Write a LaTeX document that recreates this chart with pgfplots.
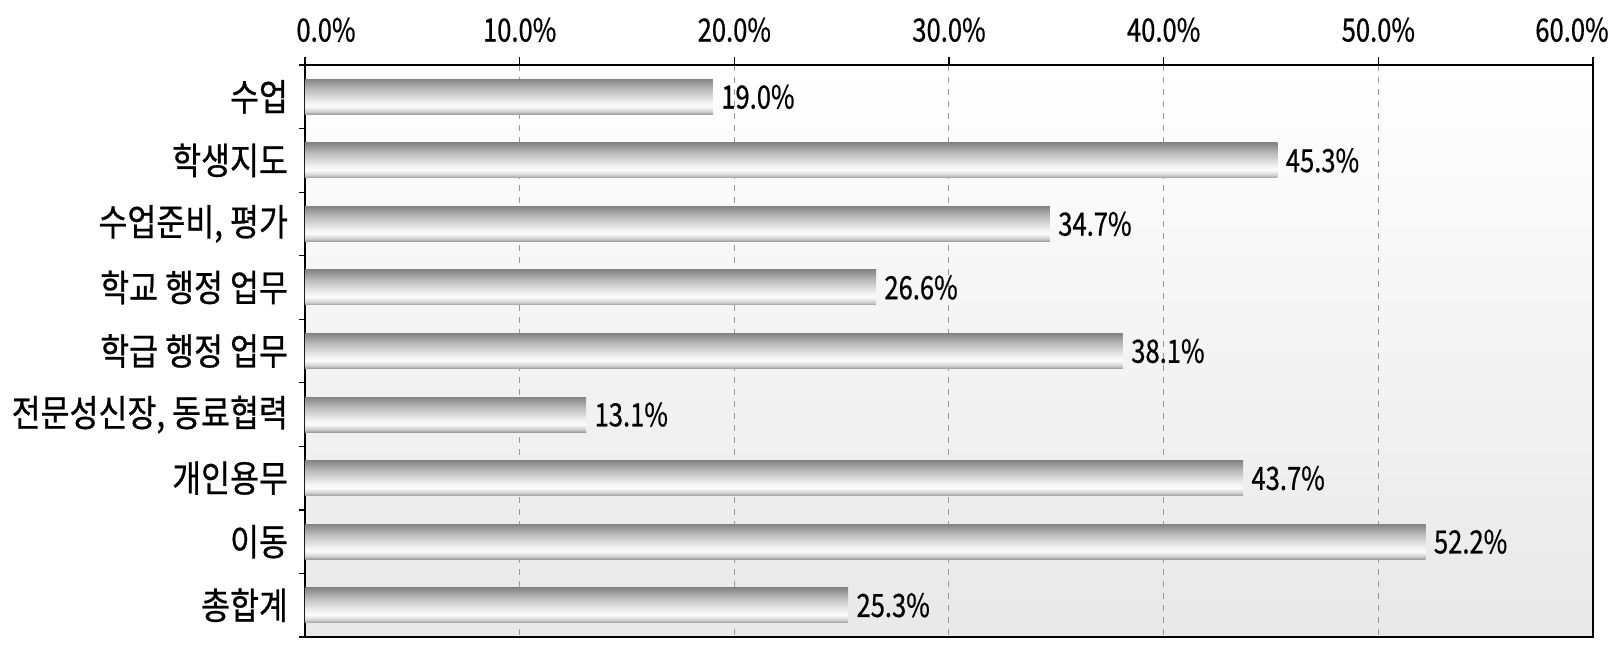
\documentclass[border=0pt]{standalone}
\usepackage{pgfplots}
\pgfplotsset{compat=1.18}
\usepackage{fontspec}
\setmainfont{Noto Sans CJK KR}[FakeStretch=0.8, FakeBold=0.6]
\newfontfamily\kr{Noto Sans CJK KR}[FakeStretch=0.85, FakeBold=0.6]
\definecolor{s1}{HTML}{9C9C9C}
\definecolor{s2}{HTML}{D0D0D0}
\definecolor{s3}{HTML}{FCFCFC}
\definecolor{s4}{HTML}{F2F2F2}
\definecolor{s5}{HTML}{BDBDBD}
\definecolor{s6}{HTML}{858585}
\pgfdeclareverticalshading{barshade}{100bp}{color(0bp)=(s1); color(25bp)=(s1); color(29bp)=(s2); color(36bp)=(s3); color(42bp)=(s4); color(60bp)=(s5); color(75bp)=(s6); color(100bp)=(s6)}
\newcommand{\lf}{\fontsize{16}{19}\selectfont}
\pgfplotsset{
  mybar/.style={xbar, bar width=17.5pt, bar shift=0pt, draw=none, shade, shading=barshade,
    point meta=x, nodes near coords={\pgfmathprintnumber[fixed,fixed zerofill,precision=1,assume math mode=true]{\pgfplotspointmeta}\%},
    nodes near coords align={horizontal},
    every node near coord/.style={anchor=west, font=\lf, text=black, inner sep=2pt, xshift=2pt}},
}
\begin{document}
\begin{tikzpicture}
\begin{axis}[
  at={(0,0)}, anchor=south west,
  scale only axis, width=644pt, height=286pt,
  xmin=0, xmax=60, ymin=-0.5, ymax=8.5, y dir=reverse,
  axis background/.style={top color=white, bottom color=black!9},
  axis line style={black, line width=0.8pt},
  xtick={0,10,...,60},
  xtick pos=right, xticklabel pos=right,
  xticklabel={\ifdim\tick pt<1pt\hspace*{21pt}\fi\pgfmathprintnumber[fixed,fixed zerofill,precision=1,assume math mode=true]{\tick}\%\ifdim\tick pt>59pt\hspace*{21pt}\fi},
  xticklabel style={font=\lf, yshift=4pt},
  tick align=outside,
  x tick style={black, line width=0.6pt}, 
  xmajorgrids, major grid style={dashed, black!40, line width=0.5pt},
  ytick={0,...,8},
  yticklabels={수업,학생지도,{수업준비, 평가},학교 행정 업무,학급 행정 업무,{전문성신장, 동료협력},개인용무,이동,총합계},
  ytick pos=left,
  y tick style={draw=none},
  yticklabel style={font=\kr\fontsize{18.5}{21}\selectfont, xshift=-1pt},
  extra y ticks={-0.5,0.5,1.5,2.5,3.5,4.5,5.5,6.5,7.5,8.5},
  extra y tick labels={},
  extra y tick style={y tick style={draw=black, line width=0.6pt}, major tick length=3pt},
  major tick length=4pt,
]
\addplot[mybar] coordinates {(19.0,0)};
\addplot[mybar] coordinates {(45.3,1)};
\addplot[mybar] coordinates {(34.7,2)};
\addplot[mybar] coordinates {(26.6,3)};
\addplot[mybar] coordinates {(38.1,4)};
\addplot[mybar] coordinates {(13.1,5)};
\addplot[mybar] coordinates {(43.7,6)};
\addplot[mybar] coordinates {(52.2,7)};
\addplot[mybar] coordinates {(25.3,8)};
\end{axis}
\pgfresetboundingbox
\path (-152.5pt,-8.5pt) rectangle (652.5pt,318.5pt);
\end{tikzpicture}
\end{document}
